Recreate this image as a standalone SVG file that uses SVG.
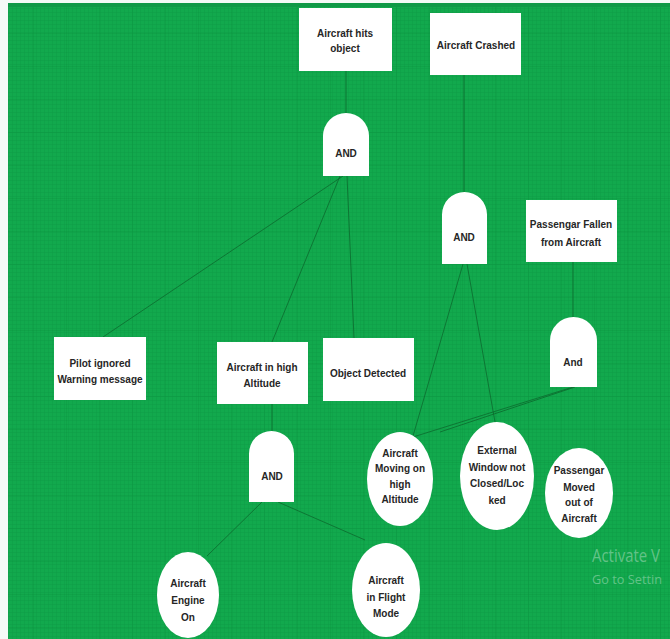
<svg xmlns="http://www.w3.org/2000/svg" width="670" height="639" viewBox="0 0 670 639">
<style>
.box{fill:#ffffff;}
.gate{fill:#ffffff;}
.ell{fill:#ffffff;}
.t{font-family:"Liberation Sans",Arial,sans-serif;font-size:10px;font-weight:bold;fill:#262626;text-anchor:middle;}
.c line{stroke:#0c6a2e;stroke-width:1;stroke-opacity:0.8;}
.wm{font-family:"Open Sans","Liberation Sans",sans-serif;fill:#ffffff;fill-opacity:0.35;}
</style>
<defs>
<pattern id="fine" width="4" height="4" patternUnits="userSpaceOnUse">
<path d="M0 0.5H4M0.5 0V4" stroke="#0f9d46" stroke-width="0.5" fill="none"/>
</pattern>
<pattern id="major" width="33" height="33" patternUnits="userSpaceOnUse">
<path d="M0 0.5H33M0.5 0V33" stroke="#0b8f3e" stroke-width="0.6" stroke-opacity="0.5" fill="none"/>
</pattern>
</defs>
<rect x="0" y="0" width="670" height="639" fill="#f4faf6"/>
<rect x="8" y="3" width="662" height="636" fill="#12a94d"/>
<rect x="8" y="3" width="662" height="636" fill="url(#fine)"/>
<rect x="8" y="3" width="662" height="636" fill="url(#major)"/>
<rect x="8" y="3" width="662" height="4" fill="#0f9946"/>
<g class="c" id="connectors">
<line x1="346" y1="71" x2="346" y2="113"/>
<line x1="343" y1="176" x2="103" y2="337"/>
<line x1="340" y1="176" x2="272" y2="342"/>
<line x1="347" y1="176" x2="354" y2="338"/>
<line x1="464" y1="75" x2="464" y2="192"/>
<line x1="463" y1="264" x2="413" y2="436"/>
<line x1="467" y1="264" x2="495" y2="422"/>
<line x1="573" y1="262" x2="573" y2="317"/>
<line x1="573" y1="387" x2="413" y2="437"/>
<line x1="575" y1="387" x2="440" y2="432"/>
<line x1="272" y1="404" x2="272" y2="431"/>
<line x1="262" y1="502" x2="207" y2="556"/>
<line x1="278" y1="502" x2="365" y2="540"/>
</g>
<g id="n-hits">
<rect class="box" x="299" y="8" width="93" height="63"/>
<text class="t" x="345" y="37">Aircraft  hits</text>
<text class="t" x="345" y="52">object</text>
</g>
<g id="n-crashed">
<rect class="box" x="430" y="13" width="91" height="62"/>
<text class="t" x="476" y="49">Aircraft Crashed</text>
</g>
<g id="g-and1">
<path class="gate" d="M323,176 V136 A23,23 0 0 1 369,136 V176 Z"/>
<text class="t" x="346" y="157">AND</text>
</g>
<g id="g-and2">
<path class="gate" d="M442,264 V214.5 A22.5,22.5 0 0 1 487,214.5 V264 Z"/>
<text class="t" x="464" y="241">AND</text>
</g>
<g id="n-fallen">
<rect class="box" x="526" y="200" width="91" height="62"/>
<text class="t" x="571" y="228">Passengar Fallen</text>
<text class="t" x="571" y="246">from Aircraft</text>
</g>
<g id="g-and3">
<path class="gate" d="M550,387 V340.5 A23.5,23.5 0 0 1 597,340.5 V387 Z"/>
<text class="t" x="573" y="366">And</text>
</g>
<g id="n-pilot">
<rect class="box" x="54" y="337" width="92" height="63"/>
<text class="t" x="100" y="367">Pilot ignored</text>
<text class="t" x="100" y="383">Warning message</text>
</g>
<g id="n-altitude">
<rect class="box" x="217" y="342" width="91" height="62"/>
<text class="t" x="262" y="371">Aircraft in high</text>
<text class="t" x="262" y="387">Altitude</text>
</g>
<g id="n-object">
<rect class="box" x="323" y="338" width="91" height="63"/>
<text class="t" x="368" y="377">Object Detected</text>
</g>
<g id="n-moving">
<ellipse class="ell" cx="400" cy="479" rx="33" ry="47"/>
<text class="t" x="400" y="457">Aircraft</text>
<text class="t" x="400" y="472">Moving on</text>
<text class="t" x="400" y="488">high</text>
<text class="t" x="400" y="503">Altitude</text>
</g>
<g id="n-window">
<ellipse class="ell" cx="497" cy="476" rx="37" ry="54"/>
<text class="t" x="497" y="454">External</text>
<text class="t" x="497" y="471">Window not</text>
<text class="t" x="497" y="487">Closed/Loc</text>
<text class="t" x="497" y="504">ked</text>
</g>
<g id="n-moved">
<ellipse class="ell" cx="579" cy="493" rx="34" ry="45"/>
<text class="t" x="579" y="474">Passengar</text>
<text class="t" x="579" y="491">Moved</text>
<text class="t" x="579" y="506">out of</text>
<text class="t" x="579" y="522">Aircraft</text>
</g>
<g id="g-and4">
<path class="gate" d="M249,502 V453.5 A22.5,22.5 0 0 1 294,453.5 V502 Z"/>
<text class="t" x="272" y="480">AND</text>
</g>
<g id="n-engine">
<ellipse class="ell" cx="188" cy="595" rx="31" ry="43"/>
<text class="t" x="188" y="587">Aircraft</text>
<text class="t" x="188" y="604">Engine</text>
<text class="t" x="188" y="621">On</text>
</g>
<g id="n-flight">
<ellipse class="ell" cx="386" cy="590" rx="34" ry="47"/>
<text class="t" x="386" y="584">Aircraft</text>
<text class="t" x="386" y="601">in Flight</text>
<text class="t" x="386" y="617">Mode</text>
</g>
<g id="watermark">
<text class="wm" x="592" y="562" font-size="18" textLength="68" lengthAdjust="spacingAndGlyphs">Activate V</text>
<text class="wm" x="592" y="584" font-size="13" textLength="70" lengthAdjust="spacingAndGlyphs">Go to Settin</text>
</g>
</svg>
